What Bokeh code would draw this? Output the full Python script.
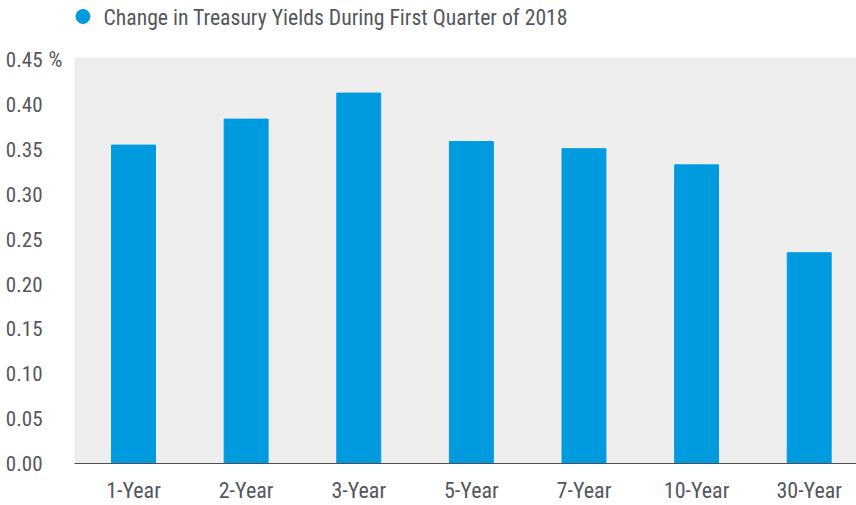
from bokeh.plotting import figure
from bokeh.models import Range1d, FixedTicker, ColumnDataSource, LinearAxis
from bokeh.core.properties import value
from bokeh.layouts import column
from bokeh.embed import file_html
from bokeh.resources import INLINE

# ---- data ----
categories = ["1-Year", "2-Year", "3-Year", "5-Year", "7-Year", "10-Year", "30-Year"]
yield_change = [0.355, 0.384, 0.413, 0.359, 0.351, 0.333, 0.235]
y_ticks = [0.0, 0.05, 0.1, 0.15, 0.2, 0.25, 0.3, 0.35, 0.4, 0.45]
y_tick_labels = ["0.00", "0.05", "0.10", "0.15", "0.20", "0.25", "0.30", "0.35", "0.40", "0.45"]
series_name = "Change in Treasury Yields During First Quarter of 2018"
unit_label = "%"

FONT = "'Liberation Sans Narrow', 'Roboto Condensed', 'DejaVu Sans Condensed', sans-serif"
TEXT = "#53575d"
BLUE = "#009bdf"
FRAME_LEFT = 74

x_pos = list(range(len(categories)))
src = ColumnDataSource(dict(x=x_pos, top=yield_change, cat=categories))

# ---- header with the legend (pixel-based ranges; frame is aligned with the chart's) ----
HEAD_H = 35
head = figure(width=856, height=HEAD_H, output_backend="svg", toolbar_location=None,
              x_range=Range1d(FRAME_LEFT, 856), y_range=Range1d(HEAD_H, 0),
              x_axis_location=None, y_axis_location=None,
              min_border_left=FRAME_LEFT, min_border_right=0, min_border_top=0, min_border_bottom=0)
head.outline_line_color = None
head.background_fill_color = "white"
head.border_fill_color = "white"
head.grid.visible = False
head.scatter(x=[82.5], y=[16], marker="circle", size=14, fill_color=BLUE, line_color=BLUE)
head.text(x=[103], y=[16.5], text=[series_name], text_font=value(FONT), text_font_size="21.7px",
          text_color=TEXT, text_align="left", text_baseline="middle")

# ---- main chart ----
p = figure(width=856, height=505 - HEAD_H, output_backend="svg", toolbar_location=None,
           x_range=Range1d(-0.524, 6.42), y_range=Range1d(0, 0.4527),
           min_border_left=FRAME_LEFT, min_border_right=0, min_border_top=22, min_border_bottom=0)

p.background_fill_color = "#eeeeee"
p.border_fill_color = "white"
p.outline_line_color = None
p.grid.visible = False

bars = p.vbar(x="x", top="top", width=0.39, source=src, fill_color=BLUE, line_color=BLUE)

# x axis
p.xaxis.ticker = FixedTicker(ticks=x_pos)
p.xaxis.major_label_overrides = {i: c for i, c in zip(x_pos, categories)}
p.xaxis.axis_line_color = "#4b5056"
p.xaxis.axis_line_width = 1.2
p.xaxis.major_tick_line_color = None
p.xaxis.minor_tick_line_color = None
p.xaxis.major_tick_out = 0
p.xaxis.major_tick_in = 0
p.xaxis.major_label_text_font = FONT
p.xaxis.major_label_text_font_size = "22px"
p.xaxis.major_label_text_color = TEXT
p.xaxis.major_label_standoff = 14

def style_y(ax, standoff):
    ax.axis_line_color = None
    ax.major_tick_line_color = None
    ax.minor_tick_line_color = None
    ax.major_tick_out = 0
    ax.major_tick_in = 0
    ax.major_label_text_font = FONT
    ax.major_label_text_font_size = "21px"
    ax.major_label_text_color = TEXT
    ax.major_label_standoff = standoff

# inner y axis: only the unit sign next to the top tick
inner = p.yaxis[0]
inner.ticker = FixedTicker(ticks=[y_ticks[-1]])
inner.major_label_overrides = {y_ticks[-1]: unit_label}
style_y(inner, 12)
inner.major_label_text_font_size = "22px"

# outer y axis: numeric tick labels
outer = LinearAxis(ticker=FixedTicker(ticks=y_ticks),
                   major_label_overrides={t: l for t, l in zip(y_ticks, y_tick_labels)})
style_y(outer, 3)
p.add_layout(outer, "left")

layout = column(head, p, spacing=0)
open("out.html", "w").write(file_html(layout, INLINE))
